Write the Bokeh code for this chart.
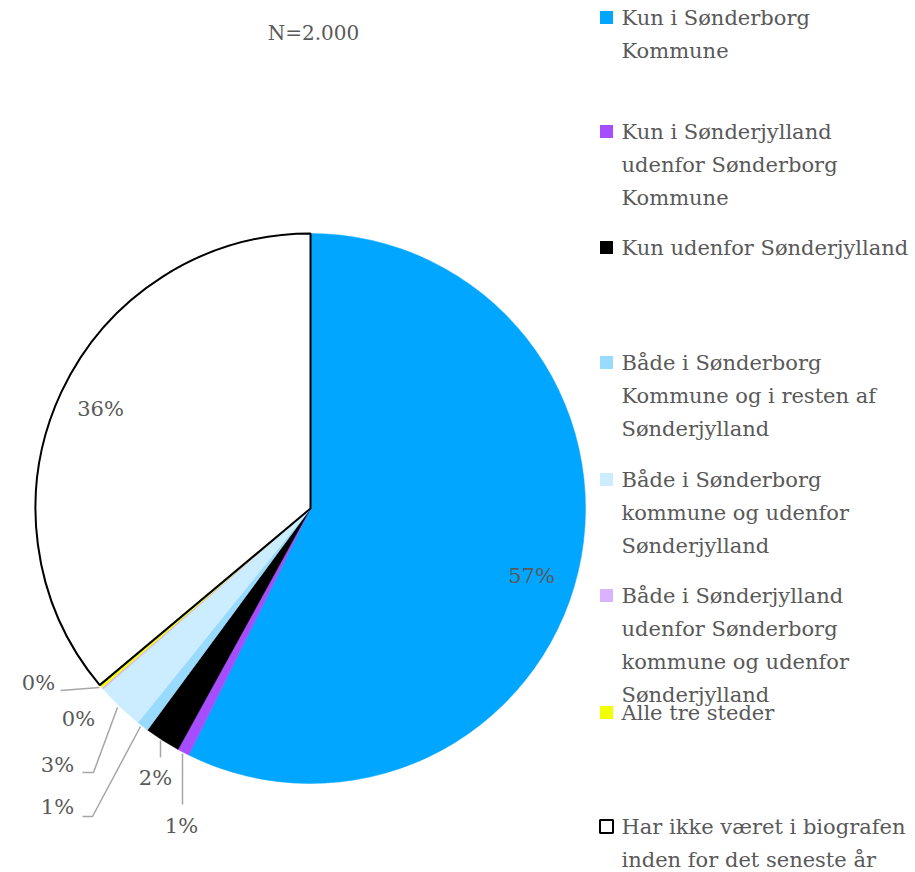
import math
from bokeh.plotting import figure
from bokeh.models import Range1d
from bokeh.core.properties import value
from bokeh.embed import file_html
from bokeh.resources import INLINE

# ---- data ----
categories = [
    "Kun i Sønderborg Kommune",
    "Kun i Sønderjylland udenfor Sønderborg Kommune",
    "Kun udenfor Sønderjylland",
    "Både i Sønderborg Kommune og i resten af Sønderjylland",
    "Både i Sønderborg kommune og udenfor Sønderjylland",
    "Både i Sønderjylland udenfor Sønderborg kommune og udenfor Sønderjylland",
    "Alle tre steder",
    "Har ikke været i biografen inden for det seneste år",
]
legend_lines = [
    ["Kun i Sønderborg", "Kommune"],
    ["Kun i Sønderjylland", "udenfor Sønderborg", "Kommune"],
    ["Kun udenfor Sønderjylland"],
    ["Både i Sønderborg", "Kommune og i resten af", "Sønderjylland"],
    ["Både i Sønderborg", "kommune og udenfor", "Sønderjylland"],
    ["Både i Sønderjylland", "udenfor Sønderborg", "kommune og udenfor", "Sønderjylland"],
    ["Alle tre steder"],
    ["Har ikke været i biografen", "inden for det seneste år"],
]
shares = [57.3, 0.7, 2.1, 0.7, 2.8, 0.1, 0.2, 36.1]
labels = ["57%", "1%", "2%", "1%", "3%", "0%", "0%", "36%"]
colors = ["#00A6FF", "#A64DFF", "#000000", "#99DAFF", "#CCEDFF", "#D9B3FF", "#F2FF00", "#FFFFFF"]
title = "N=2.000"

# ---- layout ----
W, H = 915, 872
def X(px): return px
def Y(py): return H - py

FONT = "DejaVu Serif"
TXT = "#595959"
FS = "21px"

p = figure(width=W, height=H, output_backend="svg", toolbar_location=None,
           x_range=Range1d(0, W), y_range=Range1d(0, H), min_border=0)
p.axis.visible = False
p.grid.visible = False
p.outline_line_color = None
p.background_fill_color = "white"

cx, cy, r = X(310), Y(508), 275
total = sum(shares)
cum = 0.0
starts, ends = [], []
for s in shares:
    a0 = math.pi / 2 - 2 * math.pi * cum / total
    cum += s
    a1 = math.pi / 2 - 2 * math.pi * cum / total
    starts.append(a0)
    ends.append(a1)

# coloured slices
p.wedge(x=cx, y=cy, radius=r, start_angle=starts[:7], end_angle=ends[:7],
        direction="clock", fill_color=colors[:7], line_color=colors[:7], line_width=0.5)
# white slice with black outline
p.wedge(x=cx, y=cy, radius=r, start_angle=starts[7], end_angle=ends[7],
        direction="clock", fill_color=colors[7], line_color="black", line_width=2)

# title
p.text(x=[X(313)], y=[Y(32)], text=[title], text_font=value(FONT), text_font_size="20px",
       text_color=TXT, text_align="center", text_baseline="middle")

# inside labels
p.text(x=[X(531), X(100)], y=[Y(575), Y(408)], text=[labels[0], labels[7]],
       text_font=value(FONT), text_font_size=FS, text_color=TXT,
       text_align="center", text_baseline="middle")

# outside labels with leader lines
out_pos = {1: (181, 825), 2: (155, 777), 3: (57, 806), 4: (57, 764), 5: (78, 718), 6: (38, 682)}
p.text(x=[X(out_pos[i][0]) for i in out_pos], y=[Y(out_pos[i][1]) for i in out_pos],
       text=[labels[i] for i in out_pos], text_font=value(FONT), text_font_size=FS,
       text_color=TXT, text_align="center", text_baseline="middle")

leaders = [
    [(182, 804), (182, 753)],
    [(160, 757), (160, 740)],
    [(82, 816), (92, 816), (140, 726)],
    [(82, 772), (93, 772), (117, 707)],
    [(60, 690), (99, 687)],
]
p.multi_line(xs=[[X(a) for a, b in l] for l in leaders], ys=[[Y(b) for a, b in l] for l in leaders],
             line_color="#A6A6A6", line_width=1.5)

# legend
item_y = [17, 131, 247, 362, 479, 595, 712, 826]
LH = 33
sq_x, sq = 606, 13
p.rect(x=[X(sq_x)] * 8, y=[Y(v) for v in item_y], width=sq, height=sq,
       fill_color=colors, line_color=colors[:7] + ["#000000"], line_width=[0] * 7 + [2])
tx, ty, tt = [], [], []
for yy, lines in zip(item_y, legend_lines):
    for k, ln in enumerate(lines):
        tx.append(X(621)); ty.append(Y(yy + k * LH)); tt.append(ln)
p.text(x=tx, y=ty, text=tt, text_font=value(FONT), text_font_size=FS,
       text_color=TXT, text_align="left", text_baseline="middle")

open("out.html", "w").write(file_html(p, INLINE))
